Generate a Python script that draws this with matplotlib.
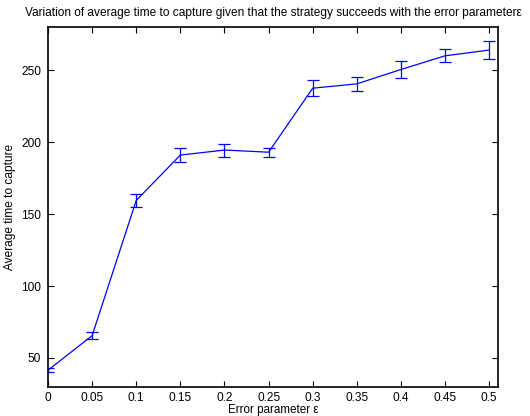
import matplotlib
matplotlib.use('Agg')
import matplotlib.pyplot as plt

plt.rcParams['font.family'] = ['Liberation Sans', 'DejaVu Sans']

# error parameter values and measured mean time to capture
epsilon = [0, 0.05, 0.1, 0.15, 0.2, 0.25, 0.3, 0.35, 0.4, 0.45, 0.5]
avg_time = [41.5, 65.5, 159.5, 191, 194.5, 193, 237.5, 240.5, 250.5, 260, 264]
err = [1.2, 2.2, 4.4, 4.6, 4.5, 3.0, 5.6, 5.1, 5.6, 4.4, 6.3]

xtick_vals = [0, 0.05, 0.1, 0.15, 0.2, 0.25, 0.3, 0.35, 0.4, 0.45, 0.5]
xtick_labels = ['0', '0.05', '0.1', '0.15', '0.2', '0.25', '0.3', '0.35', '0.4', '0.45', '0.5']
ytick_vals = [50, 100, 150, 200, 250]

fig = plt.figure(figsize=(5.3, 4.16), dpi=100)
ax = fig.add_axes([0.0906, 0.0704, 0.849, 0.8646])

ax.errorbar(epsilon, avg_time, yerr=err, color='#0000ff', linewidth=0.9,
            elinewidth=0.9, capsize=4, capthick=0.9)

ax.set_xlim(0, 0.51)
ax.set_ylim(30, 280)
ax.set_xticks(xtick_vals)
ax.set_xticklabels(xtick_labels)
ax.set_yticks(ytick_vals)
ax.tick_params(direction='in', top=True, right=True, labelsize=8.6, length=4.5, width=0.8, pad=5)
ax.tick_params(axis='x', pad=4)
for s in ax.spines.values():
    s.set_linewidth(1.2)

ax.set_xlabel('Error parameter ε', fontsize=8.4, labelpad=-0.5)
ax.set_ylabel('Average time to capture', fontsize=8.6, labelpad=4)
ax.set_title('Variation of average time to capture given that the strategy succeeds with the error parameter\u03b5',
             fontsize=8.6, pad=8)

fig.savefig('out.png', dpi=100)
